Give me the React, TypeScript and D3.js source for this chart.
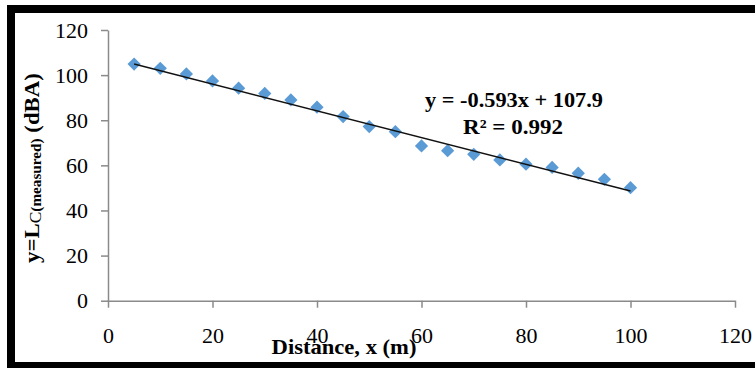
import * as d3 from 'd3';
import { useEffect, useRef } from 'react';

const distances = [5, 10, 15, 20, 25, 30, 35, 40, 45, 50, 55, 60, 65, 70, 75, 80, 85, 90, 95, 100];
const levels = [104.9, 103.0, 100.5, 97.4, 94.2, 91.9, 89.0, 85.8, 81.6, 77.2, 74.9, 68.6, 66.5, 64.9, 62.4, 60.5, 59.1, 56.5, 53.8, 50.1];
const xTicks = [0, 20, 40, 60, 80, 100, 120];
const yTicks = [0, 20, 40, 60, 80, 100, 120];
// trendline shown on the chart
const trendSlope = -0.593;
const trendIntercept = 107.9;
const equationText = 'y = -0.593x + 107.9';
const r2Text = 'R² = 0.992';

// stretch a text horizontally (in its own frame) so it is `target` px long
const fitWidth = (sel, target, cx, cy, rotate = 0) => {
  const w = sel.node().getComputedTextLength();
  const k = target / w;
  sel.attr('transform', `translate(${cx},${cy}) rotate(${rotate}) scale(${k},1)`);
};

const App = () => {
  const svgRef = useRef<SVGSVGElement>(null);

  useEffect(() => {
    const width = 755;
    const height = 368;
    const font = '"Liberation Serif", "Times New Roman", serif';
    const axisColor = '#8a8a8a';

    const svg = d3.select(svgRef.current);
    svg.selectAll('*').remove();

    const xScale = d3.scaleLinear([0, 120], [108, 735]);
    const yScale = d3.scaleLinear([0, 120], [300.7, 30]);

    // white bg + thick frame
    svg.append('rect').attr('width', width).attr('height', height).attr('fill', '#fff');
    svg.append('rect')
      .attr('x', 11).attr('y', 9)
      .attr('width', 770).attr('height', 357)
      .attr('fill', 'none').attr('stroke', '#000').attr('stroke-width', 8);

    // y axis
    svg.append('g')
      .attr('transform', `translate(${xScale(0)},0)`)
      .call(d3.axisLeft(yScale).tickValues(yTicks).tickSize(7).tickSizeOuter(0).tickPadding(13))
      .call((g) => {
        g.select('.domain').attr('stroke', axisColor).attr('stroke-width', 1.5);
        g.selectAll('.tick line').attr('stroke', axisColor).attr('stroke-width', 1.5);
        g.selectAll('.tick text')
          .attr('font-size', 22).attr('font-family', font).attr('fill', '#000');
      });

    // x axis
    svg.append('g')
      .attr('transform', `translate(0,${yScale(0)})`)
      .call(d3.axisBottom(xScale).tickValues(xTicks).tickSize(7).tickSizeOuter(0).tickPadding(20))
      .call((g) => {
        g.select('.domain').attr('stroke', axisColor).attr('stroke-width', 1.5);
        g.selectAll('.tick line').attr('stroke', axisColor).attr('stroke-width', 1.5);
        g.selectAll('.tick text')
          .attr('font-size', 22).attr('font-family', font).attr('fill', '#000');
      });

    // data points
    const diamond = d3.symbol(d3.symbolSquare, 88);
    svg.append('g')
      .selectAll('path')
      .data(distances)
      .join('path')
      .attr('d', diamond)
      .attr('fill', '#5B9BD5')
      .attr('transform', (d, i) => `translate(${xScale(d)},${yScale(levels[i])}) rotate(45)`);

    // trendline
    const x0 = d3.min(distances);
    const x1 = d3.max(distances);
    const line = d3.line<number>()
      .x((d) => xScale(d))
      .y((d) => yScale(trendSlope * d + trendIntercept));
    svg.append('path')
      .attr('d', line([x0, x1]))
      .attr('fill', 'none')
      .attr('stroke', '#111')
      .attr('stroke-width', 1.5);

    const boldText = (txt, size) => svg.append('text')
      .attr('text-anchor', 'middle')
      .attr('font-family', font).attr('font-weight', 'bold').attr('font-size', size)
      .text(txt);

    // equation
    fitWidth(boldText(equationText, 21), 178, 514, 107);
    fitWidth(boldText(r2Text, 21), 100, 513, 134);

    // x title
    fitWidth(boldText('Distance, x (m)', 21), 145, 344, 354);

    // y title
    const yt = svg.append('text')
      .attr('text-anchor', 'middle')
      .attr('font-family', font).attr('font-weight', 'bold').attr('font-size', 21);
    yt.append('tspan').text('y=L');
    yt.append('tspan').attr('font-size', 16).attr('font-weight', 'normal').attr('dy', 2).text('C');
    yt.append('tspan').attr('font-size', 14).text('(measured)');
    yt.append('tspan').attr('dy', -2).text(' (dBA)');
    fitWidth(yt, 190, 39, 168, -90);
  }, []);

  return (
    <svg
      ref={svgRef}
      width={755}
      height={368}
      style={{ position: 'absolute', left: 0, top: 0 }}
    />
  );
};

export default App;
